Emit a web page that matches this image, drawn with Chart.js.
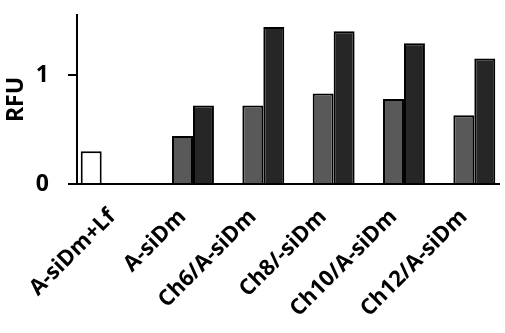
<!DOCTYPE html>
<html>
<head>
<meta charset="utf-8">
<script src="https://cdn.jsdelivr.net/npm/chart.js@4/dist/chart.umd.min.js"></script>
<style>
  html, body { margin: 0; padding: 0; background: #ffffff; }
  #wrap { width: 505px; height: 333px; position: relative; }
</style>
</head>
<body>
<div id="wrap"><canvas id="chart"></canvas></div>
<script>
// Sample groups along the x axis
const categories = ['A-siDm+Lf', 'A-siDm', 'Ch6/A-siDm', 'Ch8/-siDm', 'Ch10/A-siDm', 'Ch12/A-siDm'];

// Relative fluorescence units per series
const controlValues = [0.30, null, null, null, null, null];
const firstValues   = [null, 0.44, 0.72, 0.83, 0.78, 0.63];
const secondValues  = [null, 0.72, 1.44, 1.40, 1.29, 1.15];

// Y axis
const yTicks = [0, 1];
const yMax = 1.55;
const yTitle = 'RFU';

const font = '"Open Sans", "DejaVu Sans", sans-serif';

new Chart(document.getElementById('chart'), {
  type: 'bar',
  data: {
    labels: categories,
    datasets: [
      { data: controlValues, backgroundColor: '#ffffff', borderColor: '#000000', borderWidth: 2 },
      { data: firstValues,   backgroundColor: '#595959', borderColor: '#000000', borderWidth: 2 },
      { data: secondValues,  backgroundColor: '#262626', borderColor: '#000000', borderWidth: 2 }
    ]
  },
  options: {
    responsive: true,
    maintainAspectRatio: false,
    animation: false,
    layout: { padding: { top: 15, right: 6, left: 0, bottom: 0 } },
    datasets: {
      bar: { categoryPercentage: 0.894, barPercentage: 1.0 }
    },
    plugins: {
      legend: { display: false },
      tooltip: { enabled: false }
    },
    scales: {
      x: {
        offset: true,
        grid: { display: false, drawTicks: false },
        border: { display: true, color: '#000000', width: 2 },
        ticks: {
          color: '#000000',
          font: { family: font, size: 22, weight: 'bold' },
          maxRotation: 45,
          minRotation: 45,
          padding: 20,
          autoSkip: false
        },
        afterFit: (scale) => {
          scale.height = 149;
          scale.paddingLeft = 0;
          scale.paddingRight = 0;
        }
      },
      y: {
        min: 0,
        max: yMax,
        grid: {
          drawOnChartArea: false,
          drawTicks: true,
          tickLength: 9,
          color: '#000000',
          lineWidth: 2
        },
        border: { display: true, color: '#000000', width: 2 },
        ticks: {
          color: '#000000',
          font: { family: font, size: 23, weight: 'bold' },
          padding: 19
        },
        afterBuildTicks: (scale) => {
          scale.ticks = yTicks.map(v => ({ value: v }));
        },
        title: {
          display: true,
          text: yTitle,
          color: '#000000',
          font: { family: font, size: 23, weight: 'bold' },
          padding: { top: 3, bottom: 0 }
        },
        afterFit: (scale) => {
          scale.width = 77;
          scale.paddingTop = 0;
          scale.paddingBottom = 0;
        }
      }
    }
  }
});
</script>
</body>
</html>
